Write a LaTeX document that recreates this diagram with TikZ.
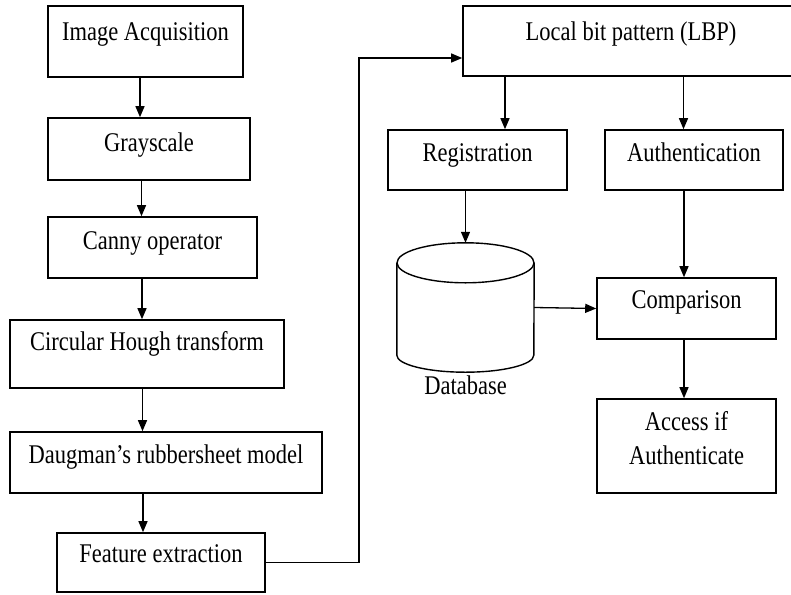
\documentclass[tikz,border=0pt]{standalone}
\usepackage{fontspec}
\setmainfont{Liberation Serif}
\usetikzlibrary{arrows.meta,calc}
% text is drawn slightly taller than its natural height
\newcommand{\vtxt}[1]{\scalebox{1}[1.2]{#1}}
\begin{document}
\begin{tikzpicture}[x=1pt,y=-1pt,
  box/.style={draw, line width=1.6pt, rectangle, inner sep=0pt},
  lbl/.style={font=\fontsize{22.5}{28.5}\selectfont, inner sep=0pt, anchor=base},
  arr/.style={line width=1.3pt, -{Triangle[length=11pt,width=9pt]}},
  cyl/.style={line width=1.4pt}]
\useasboundingbox (0,0) rectangle (791,594);

% ---- left column: preprocessing chain ----
\node[box, minimum width=195pt, minimum height=71pt] (ia) at (145.5,41.5) {};
\node[lbl] at ([yshift=-35pt]ia.north) {\vtxt{Image Acquisition}};

\node[box, minimum width=202pt, minimum height=62pt] (gs) at (149,149) {};
\node[lbl] at ([yshift=-34pt]gs.north) {\vtxt{Grayscale}};

\node[box, minimum width=209pt, minimum height=61pt] (cn) at (152.5,247.5) {};
\node[lbl] at ([yshift=-33pt]cn.north) {\vtxt{Canny operator}};

\node[box, minimum width=274pt, minimum height=68pt] (ch) at (147,354) {};
\node[lbl] at ([yshift=-31pt]ch.north) {\vtxt{Circular Hough transform}};

\node[box, minimum width=312pt, minimum height=61pt] (dg) at (166,462.5) {};
\node[lbl] at ([yshift=-32pt]dg.north) {\vtxt{Daugman’s rubbersheet model}};

\node[box, minimum width=208pt, minimum height=59pt] (fe) at (161,562.5) {};
\node[lbl] at ([yshift=-30pt]fe.north) {\vtxt{Feature extraction}};

% ---- right part: matching ----
\node[box, minimum width=330pt, minimum height=70pt] (lbp) at (628,41) {};
\node[lbl] at ([yshift=-35pt,xshift=3pt]lbp.north) {\vtxt{Local bit pattern (LBP)}};

\node[box, minimum width=179pt, minimum height=60pt] (rg) at (477.5,160) {};
\node[lbl] at ([yshift=-32pt]rg.north) {\vtxt{Registration}};

\node[box, minimum width=178pt, minimum height=60pt] (au) at (694,160) {};
\node[lbl] at ([yshift=-32pt]au.north) {\vtxt{Authentication}};

\node[box, minimum width=179pt, minimum height=61pt] (cmp) at (686.5,308.5) {};
\node[lbl] at ([yshift=-31pt]cmp.north) {\vtxt{Comparison}};

\node[box, minimum width=179pt, minimum height=94pt] (acc) at (686.5,446) {};
\node[lbl] at ([yshift=-32pt]acc.north) {\vtxt{\begin{tabular}[t]{@{}c@{}}Access if\\Authenticate\end{tabular}}};

% database cylinder
\node[inner sep=0pt, minimum width=137pt, minimum height=129pt] (db) at (465.5,307.5) {};
\draw[cyl] ($(db.north)+(0,20)$) ellipse [x radius=68.5, y radius=20];
\draw[cyl] ($(db.north west)+(0,20)$) -- ($(db.south west)+(0,-17)$)
  arc[start angle=180, end angle=0, x radius=68.5, y radius=17]
  -- ($(db.north east)+(0,20)$);
\node[lbl] at ([yshift=-22pt]db.south) {\vtxt{Database}};

% ---- connectors ----
\draw[arr] (ia.south -| 140,0) -- (gs.north -| 140,0);
\draw[arr] (gs.south -| 141.5,0) -- (cn.north -| 141.5,0);
\draw[arr] (cn.south -| 142,0) -- (ch.north -| 142,0);
\draw[arr] (ch.south -| 142.5,0) -- (dg.north -| 142.5,0);
\draw[arr] (dg.south -| 143,0) -- (fe.north -| 143,0);

\coordinate (turn) at (359,58);
\draw[arr] (fe.east) -| (turn) -- (turn -| lbp.west);

\draw[arr] (lbp.south -| 505,0) -- (rg.north -| 505,0);
\draw[arr] (lbp.south -| 683.5,0) -- (au.north -| 683.5,0);
\draw[arr] (rg.south -| db.north) -- (db.north);
\draw[arr] (au.south -| 684,0) -- (cmp.north -| 684,0);
\draw[arr] (cmp.south -| 684,0) -- (acc.north -| 684,0);
\draw[arr] (db.east) -- (cmp.west);
\end{tikzpicture}
\end{document}
